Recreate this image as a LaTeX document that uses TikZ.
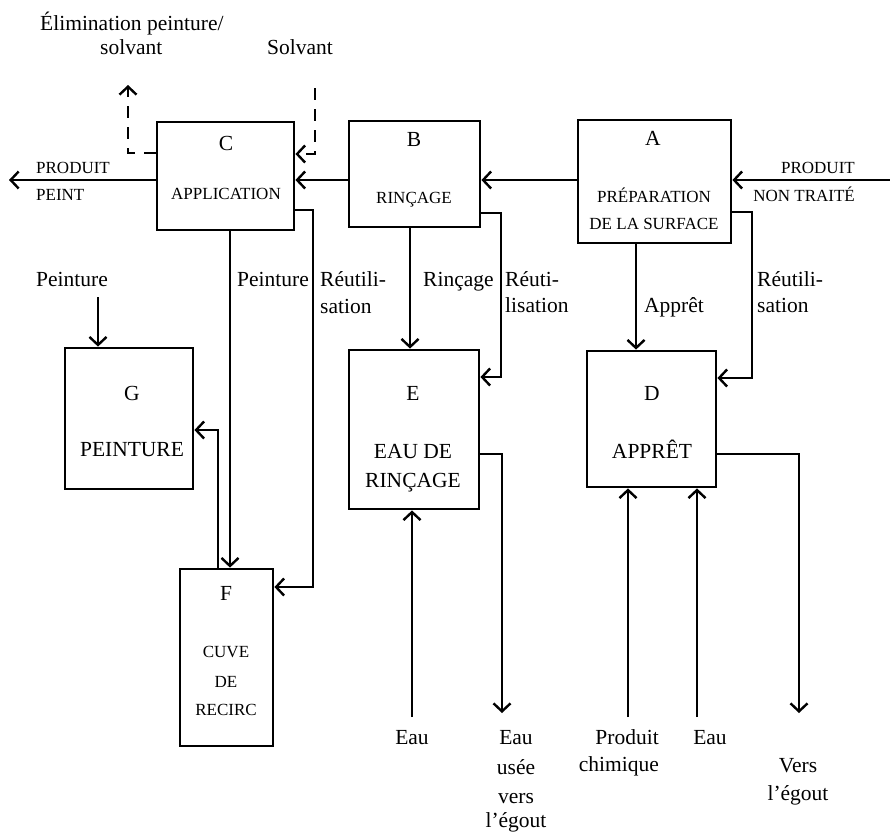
\documentclass[tikz,border=0pt]{standalone}
\usepackage{fontspec}
\setmainfont{Liberation Serif}
\usetikzlibrary{arrows.meta}
\begin{document}
\begin{tikzpicture}[x=1pt,y=-1pt,
  box/.style={draw,line width=2.8pt,inner sep=0pt},
  conn/.style={line width=2.4pt,-{Straight Barb[length=8pt,width=17pt]}},
  dconn/.style={conn,dash pattern=on 12pt off 9pt},
  txt/.style={font=\fontsize{21.5}{29}\selectfont,inner sep=0pt,anchor=base},
  sm/.style={font=\fontsize{17}{28}\selectfont,inner sep=0pt,anchor=base},
]
\useasboundingbox (0,0) rectangle (890,833);

% boxes
\node[box,minimum width=137pt,minimum height=108pt] (C) at (225.5,176) {};
\node[box,minimum width=131pt,minimum height=106pt] (B) at (414.5,174) {};
\node[box,minimum width=153pt,minimum height=123pt] (A) at (654.5,181.5) {};
\node[box,minimum width=128pt,minimum height=141pt] (G) at (129,418.5) {};
\node[box,minimum width=130pt,minimum height=159pt] (E) at (414,429.5) {};
\node[box,minimum width=129pt,minimum height=136pt] (D) at (651.5,419) {};
\node[box,minimum width=93pt,minimum height=177pt] (F) at (226.5,657.5) {};

% box texts
\node[txt] (tC) at (226,150) {C};
\node[sm] (tC2) at (226,199) {APPLICATION};
\node[txt] (tB) at (414,146) {B};
\node[sm] (tB2) at (414,203) {RINÇAGE};
\node[txt] (tA) at (653,145) {A};
\node[sm] (tA2) at (654,202) {PRÉPARATION};
\node[sm] (tA3) at (654,229) {DE LA SURFACE};
\node[txt] (tG) at (132,400) {G};
\node[txt] (tG2) at (132,456) {PEINTURE};
\node[txt] (tE) at (413,400) {E};
\node[txt] (tE2) at (413,458) {EAU DE};
\node[txt] (tE3) at (413,487) {RINÇAGE};
\node[txt] (tD) at (652,400) {D};
\node[txt] (tD2) at (652,458) {APPRÊT};
\node[txt] (tF) at (226,600) {F};
\node[sm] (tF2) at (226,657) {CUVE};
\node[sm] (tF3) at (226,687) {DE};
\node[sm] (tF4) at (226,715) {RECIRC};

% free ends
\coordinate (outC) at (9,180);
\coordinate (inA) at (890,180);
\coordinate (solv) at (315,88);
\coordinate (elim) at (128,85);
\coordinate (pg) at (98,297);
\coordinate (eauE) at (412,717);
\coordinate (eauUsee) at (502,713);
\coordinate (prodD) at (628,717);
\coordinate (eauD) at (697,717);
\coordinate (egout) at (799,713);

% main line
\draw[conn] (C.west |- 0,180) -- (outC);
\draw[conn] (B.west |- 0,180) -- (C.east |- 0,180);
\draw[conn] (A.west |- 0,180) -- (B.east |- 0,180);
\draw[conn] (inA) -- (A.east |- 0,180);
% dashed
\draw[dconn] (solv) |- (C.east |- 0,154);
\draw[dconn] (C.west |- 0,153) -| (elim);
% C outputs
\draw[conn] (C.south -| 230,0) -- (F.north -| 230,0);
\draw[conn] (C.east |- 0,210) -| (313,400) |- (F.east |- 0,587);
% B outputs
\draw[conn] (B.south -| 410,0) -- (E.north -| 410,0);
\draw[conn] (B.east |- 0,213) -| (501,300) |- (E.east |- 0,377);
% A outputs
\draw[conn] (A.south -| 636,0) -- (D.north -| 636,0);
\draw[conn] (A.east |- 0,212) -| (752,300) |- (D.east |- 0,378);
% G, F
\draw[conn] (pg) -- (G.north -| pg);
\draw[conn] (F.north -| 218,0) |- (G.east |- 0,430);
% bottom
\draw[conn] (eauE) -- (E.south -| eauE);
\draw[conn] (E.east |- 0,454) -| (eauUsee);
\draw[conn] (prodD) -- (D.south -| prodD);
\draw[conn] (eauD) -- (D.south -| eauD);
\draw[conn] (D.east |- 0,454) -| (egout);

% labels
\node[txt,anchor=base west] (l1) at (40,30) {Élimination peinture/};
\node[txt,anchor=base west] (l2) at (100,54) {solvant};
\node[txt,anchor=base west] (l3) at (267,54) {Solvant};
\node[sm,anchor=base west] (l4) at (36,173) {PRODUIT};
\node[sm,anchor=base west] (l5) at (36,200) {PEINT};
\node[sm,anchor=base east] (l6) at (855,173) {PRODUIT};
\node[sm,anchor=base east] (l7) at (855,201) {NON TRAITÉ};
\node[txt] (l8) at (72,286) {Peinture};
\node[txt,anchor=base west] (l9) at (237,286) {Peinture};
\node[txt,anchor=base west] (l10) at (320,286) {Réutili-};
\node[txt,anchor=base west] (l11) at (320,313) {sation};
\node[txt,anchor=base west] (l12) at (423,286) {Rinçage};
\node[txt,anchor=base west] (l13) at (505,286) {Réuti-};
\node[txt,anchor=base west] (l14) at (505,312) {lisation};
\node[txt,anchor=base west] (l15) at (644,312) {Apprêt};
\node[txt,anchor=base west] (l16) at (757,286) {Réutili-};
\node[txt,anchor=base west] (l17) at (757,312) {sation};
\node[txt] (l18) at (412,744) {Eau};
\node[txt] (l19) at (516,744) {Eau};
\node[txt] (l20) at (516,774) {usée};
\node[txt] (l21) at (516,803) {vers};
\node[txt] (l22) at (516,827) {l’égout};
\node[txt,anchor=base east] (l23) at (659,744) {Produit};
\node[txt,anchor=base east] (l24) at (659,771) {chimique};
\node[txt] (l25) at (710,744) {Eau};
\node[txt] (l26) at (798,772) {Vers};
\node[txt] (l27) at (798,800) {l’égout};
\end{tikzpicture}
\end{document}
